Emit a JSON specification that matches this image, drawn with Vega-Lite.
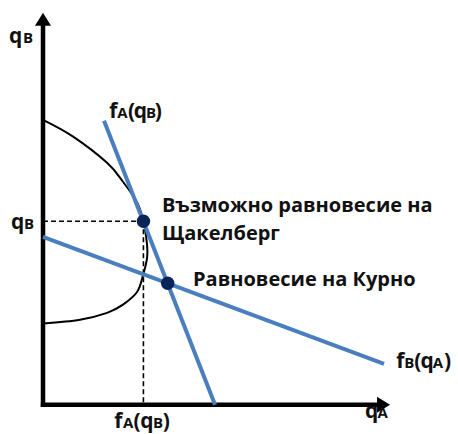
{
  "$schema": "https://vega.github.io/schema/vega-lite/v6.json",
  "width": 458,
  "height": 434,
  "autosize": {"type": "fit", "contains": "padding"},
  "padding": 0,
  "background": "white",
  "config": {"view": {"stroke": null}},
  "datasets": {
    "curve": [
      {"i": 1, "x": 0, "y": 66.3},
      {"i": 2, "x": 7.0, "y": 62.4},
      {"i": 3, "x": 14.9, "y": 56.3},
      {"i": 4, "x": 18.6, "y": 51.9},
      {"i": 5, "x": 21.9, "y": 47.0},
      {"i": 6, "x": 23.35, "y": 42.7},
      {"i": 7, "x": 24.2, "y": 37.2},
      {"i": 8, "x": 24.2, "y": 34.2},
      {"i": 9, "x": 23.3, "y": 30.3},
      {"i": 10, "x": 21.9, "y": 26.3},
      {"i": 11, "x": 18.6, "y": 23.3},
      {"i": 12, "x": 14.9, "y": 21.4},
      {"i": 13, "x": 8.6, "y": 19.8},
      {"i": 14, "x": 0, "y": 18.9}
    ],
    "guides": [
      {"x": 0, "y": 42.7, "x2": 23.35, "y2": 42.7},
      {"x": 23.35, "y": 42.7, "x2": 23.35, "y2": 0}
    ],
    "reactions": [
      {"name": "fA", "x": 14.19, "y": 66.09, "x2": 40.0, "y2": 0},
      {"name": "fB", "x": 0, "y": 39.1, "x2": 79.3, "y2": 9.54}
    ],
    "axes": [
      {"name": "yaxis", "x": 0, "y": 0, "x2": 0, "y2": 89.37},
      {"name": "xaxis", "x": 0, "y": 0, "x2": 78.84, "y2": 0}
    ],
    "arrows": [
      {"name": "up", "x": 0, "y": 89.37},
      {"name": "right", "x": 78.84, "y": 0}
    ],
    "points": [
      {"name": "Stackelberg", "x": 23.35, "y": 42.7},
      {"name": "Cournot", "x": 28.99, "y": 28.29}
    ],
    "labels": [
      {"kind": "big", "t": "q", "x": -7.91, "y": 84.24},
      {"kind": "small", "t": "B", "x": -4.65, "y": 84.24},
      {"kind": "big", "t": "q", "x": -7.44, "y": 40.96},
      {"kind": "small", "t": "B", "x": -4.42, "y": 40.96},
      {"kind": "big", "t": "q", "x": 74.88, "y": -3.03},
      {"kind": "small", "t": "A", "x": 77.8, "y": -3.03},
      {"kind": "big", "t": "f", "x": 15.4, "y": 66.79},
      {"kind": "small", "t": "A", "x": 17.25, "y": 66.79},
      {"kind": "big", "t": "(", "x": 19.75, "y": 66.79},
      {"kind": "big", "t": "q", "x": 21.1, "y": 66.79},
      {"kind": "small", "t": "B", "x": 23.95, "y": 66.79},
      {"kind": "big", "t": ")", "x": 26.0, "y": 66.79},
      {"kind": "big", "t": "f", "x": 16.55, "y": -5.35},
      {"kind": "small", "t": "A", "x": 18.6, "y": -5.35},
      {"kind": "big", "t": "(", "x": 21.05, "y": -5.35},
      {"kind": "big", "t": "q", "x": 22.6, "y": -5.35},
      {"kind": "small", "t": "B", "x": 25.6, "y": -5.35},
      {"kind": "big", "t": ")", "x": 27.85, "y": -5.35},
      {"kind": "big", "t": "f", "x": 82.15, "y": 8.61},
      {"kind": "small", "t": "B", "x": 84.0, "y": 8.61},
      {"kind": "big", "t": "(", "x": 86.3, "y": 8.61},
      {"kind": "big", "t": "q", "x": 87.8, "y": 8.61},
      {"kind": "small", "t": "A", "x": 90.65, "y": 8.61},
      {"kind": "big", "t": ")", "x": 93.25, "y": 8.61},
      {"kind": "note", "t": "Възможно равновесие на", "x": 27.67, "y": 44.91},
      {"kind": "note", "t": "Щакелберг", "x": 27.67, "y": 38.4},
      {"kind": "note", "t": "Равновесие на Курно", "x": 34.88, "y": 27.69}
    ]
  },
  "layer": [
    {
      "data": {"name": "curve"},
      "mark": {"type": "line", "interpolate": "cardinal", "color": "black", "strokeWidth": 2},
      "encoding": {
        "x": {"field": "x", "type": "quantitative", "scale": {"domain": [-10, 96.5], "nice": false, "zero": false}, "axis": null},
        "y": {"field": "y", "type": "quantitative", "scale": {"domain": [-6.8, 94.2], "nice": false, "zero": false}, "axis": null},
        "order": {"field": "i", "type": "quantitative"}
      }
    },
    {
      "data": {"name": "guides"},
      "mark": {"type": "rule", "color": "black", "strokeWidth": 1.6, "strokeDash": [5, 3]},
      "encoding": {
        "x": {"field": "x", "type": "quantitative", "scale": {"domain": [-10, 96.5], "nice": false, "zero": false}, "axis": null},
        "y": {"field": "y", "type": "quantitative", "scale": {"domain": [-6.8, 94.2], "nice": false, "zero": false}, "axis": null},
        "x2": {"field": "x2"},
        "y2": {"field": "y2"}
      }
    },
    {
      "data": {"name": "axes"},
      "mark": {"type": "rule", "color": "black", "strokeWidth": 4.5, "strokeCap": "square"},
      "encoding": {
        "x": {"field": "x", "type": "quantitative", "scale": {"domain": [-10, 96.5], "nice": false, "zero": false}, "axis": null},
        "y": {"field": "y", "type": "quantitative", "scale": {"domain": [-6.8, 94.2], "nice": false, "zero": false}, "axis": null},
        "x2": {"field": "x2"},
        "y2": {"field": "y2"}
      }
    },
    {
      "data": {"name": "arrows"},
      "transform": [{"filter": "datum.name == 'up'"}],
      "mark": {"type": "point", "shape": "M0,-1L1,0.625L-1,0.625Z", "size": 256, "filled": true, "color": "black", "opacity": 1},
      "encoding": {
        "x": {"field": "x", "type": "quantitative", "scale": {"domain": [-10, 96.5], "nice": false, "zero": false}, "axis": null},
        "y": {"field": "y", "type": "quantitative", "scale": {"domain": [-6.8, 94.2], "nice": false, "zero": false}, "axis": null}
      }
    },
    {
      "data": {"name": "arrows"},
      "transform": [{"filter": "datum.name == 'right'"}],
      "mark": {"type": "point", "shape": "M1,0L-0.625,-1L-0.625,1Z", "size": 256, "filled": true, "color": "black", "opacity": 1},
      "encoding": {
        "x": {"field": "x", "type": "quantitative", "scale": {"domain": [-10, 96.5], "nice": false, "zero": false}, "axis": null},
        "y": {"field": "y", "type": "quantitative", "scale": {"domain": [-6.8, 94.2], "nice": false, "zero": false}, "axis": null}
      }
    },
    {
      "data": {"name": "reactions"},
      "mark": {"type": "rule", "color": "#4a7ebf", "strokeWidth": 4},
      "encoding": {
        "x": {"field": "x", "type": "quantitative", "scale": {"domain": [-10, 96.5], "nice": false, "zero": false}, "axis": null},
        "y": {"field": "y", "type": "quantitative", "scale": {"domain": [-6.8, 94.2], "nice": false, "zero": false}, "axis": null},
        "x2": {"field": "x2"},
        "y2": {"field": "y2"}
      }
    },
    {
      "data": {"name": "points"},
      "mark": {"type": "circle", "size": 180, "color": "#0b2457", "opacity": 1},
      "encoding": {
        "x": {"field": "x", "type": "quantitative", "scale": {"domain": [-10, 96.5], "nice": false, "zero": false}, "axis": null},
        "y": {"field": "y", "type": "quantitative", "scale": {"domain": [-6.8, 94.2], "nice": false, "zero": false}, "axis": null}
      }
    },
    {
      "data": {"name": "labels"},
      "transform": [{"filter": "datum.kind == 'big'"}],
      "mark": {"type": "text", "align": "left", "baseline": "alphabetic", "font": "Open Sans", "fontWeight": "bold", "fontSize": 21, "color": "#111111"},
      "encoding": {
        "x": {"field": "x", "type": "quantitative", "scale": {"domain": [-10, 96.5], "nice": false, "zero": false}, "axis": null},
        "y": {"field": "y", "type": "quantitative", "scale": {"domain": [-6.8, 94.2], "nice": false, "zero": false}, "axis": null},
        "text": {"field": "t"}
      }
    },
    {
      "data": {"name": "labels"},
      "transform": [{"filter": "datum.kind == 'small'"}],
      "mark": {"type": "text", "align": "left", "baseline": "alphabetic", "font": "Open Sans", "fontWeight": "bold", "fontSize": 15, "color": "#111111"},
      "encoding": {
        "x": {"field": "x", "type": "quantitative", "scale": {"domain": [-10, 96.5], "nice": false, "zero": false}, "axis": null},
        "y": {"field": "y", "type": "quantitative", "scale": {"domain": [-6.8, 94.2], "nice": false, "zero": false}, "axis": null},
        "text": {"field": "t"}
      }
    },
    {
      "data": {"name": "labels"},
      "transform": [{"filter": "datum.kind == 'note'"}],
      "mark": {"type": "text", "align": "left", "baseline": "alphabetic", "font": "Open Sans", "fontWeight": "bold", "fontSize": 20, "color": "#111111"},
      "encoding": {
        "x": {"field": "x", "type": "quantitative", "scale": {"domain": [-10, 96.5], "nice": false, "zero": false}, "axis": null},
        "y": {"field": "y", "type": "quantitative", "scale": {"domain": [-6.8, 94.2], "nice": false, "zero": false}, "axis": null},
        "text": {"field": "t"}
      }
    }
  ]
}
